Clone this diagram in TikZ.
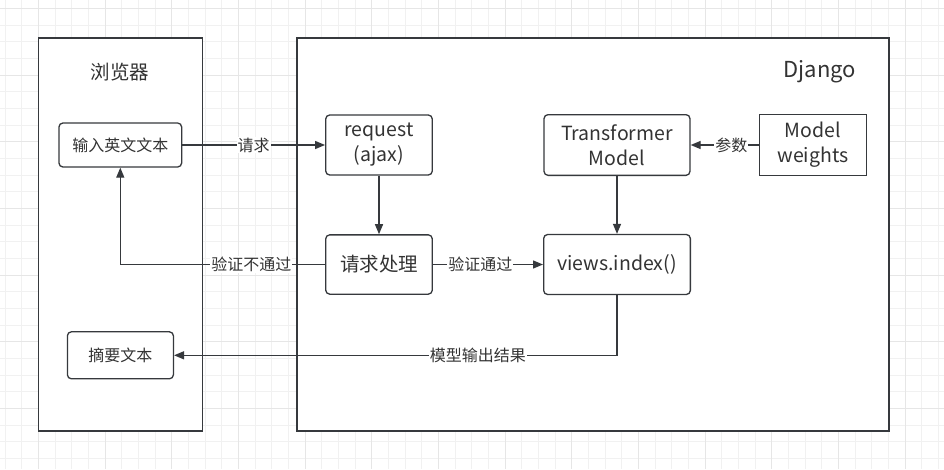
\documentclass[tikz,border=0pt]{standalone}
\usepackage{fontspec}
\setmainfont{Noto Sans CJK SC}
\usetikzlibrary{positioning, arrows.meta, calc}
\definecolor{Diagram_Line}{HTML}{36393D}
\definecolor{Diagram_Text}{HTML}{333333}
\definecolor{Grid_Minor}{HTML}{F1F1F1}
\definecolor{Grid_Major}{HTML}{E6E6E6}

\begin{document}
\begin{tikzpicture}[x=1pt, y=-1pt,
  every node/.style={text=Diagram_Text, font=\fontsize{16}{20}\selectfont},
  panel/.style={draw=Diagram_Line, line width=1.3pt, fill=white, inner sep=0pt},
  box/.style={draw=Diagram_Line, line width=1.3pt, fill=white, rounded corners=4pt,
    align=center, inner sep=0pt, font=\fontsize{19.5}{25}\selectfont},
  small box/.style={box, font=\fontsize{16}{20}\selectfont},
  flow/.style={draw=Diagram_Line, line width=1.3pt, -{Triangle[length=10pt, width=8pt]}},
  edge label/.style={fill=white, inner sep=1pt, font=\fontsize{16}{20}\selectfont}]
  \useasboundingbox (0,0) rectangle (944,469);
  \fill[white] (0,0) rectangle (944,469);
  % Background grid
  \foreach \gx in {0,...,56} {
    \draw[Grid_Minor, line width=0.8pt] ({5+16.667*\gx},0) -- ++(0,469);
  }
  \foreach \gy in {0,...,28} {
    \draw[Grid_Minor, line width=0.8pt] (0,{8.3+16.667*\gy}) -- ++(944,0);
  }
  \foreach \gx in {0,...,14} {
    \draw[Grid_Major, line width=0.8pt] ({38.3+66.667*\gx},0) -- ++(0,469);
  }
  \foreach \gy in {0,...,7} {
    \draw[Grid_Major, line width=0.8pt] (0,{8.3+66.667*\gy}) -- ++(944,0);
  }
  % Panels
  \node[panel, minimum width=164pt, minimum height=393pt] (browser) at (120.5,234.5) {};
  \node[panel, minimum width=592pt, minimum height=393pt] (django) at (593,234.5) {};
  \node[font=\fontsize{19.5}{22}\selectfont] (browser title) at (120,72) {浏览器};
  \node[font=\fontsize{22}{26}\selectfont] (django title) at (820,72) {Django};
  % Boxes
  \node[small box, minimum width=122.7pt, minimum height=44pt] (input) at (120.3,145) {输入英文文本};
  \node[small box, minimum width=106pt, minimum height=47pt] (summary) at (120.4,355.3) {摘要文本};
  \node[box, minimum width=106.6pt, minimum height=60pt] (request) at (379,145) {request\\(ajax)};
  \node[box, minimum width=106.6pt, minimum height=59.3pt] (handle) at (379,264.5) {请求处理};
  \node[box, minimum width=146pt, minimum height=60.7pt] (transformer) at (617,145) {Transformer\\Model};
  \node[box, rounded corners=0pt, minimum width=107.4pt, minimum height=60.7pt] (weights) at (813,145) {Model\\weights};
  \node[box, minimum width=146.7pt, minimum height=60pt] (views) at (617,264.5) {views.index()};
  % Connectors
  \draw[flow] (input) -- node[edge label]{请求} (request);
  \draw[flow] (request) -- (handle);
  \draw[flow] (handle.west) -| node[edge label, pos=0.18]{验证不通过} (input.south);
  \draw[flow] (handle) -- node[edge label, pos=0.43]{验证通过} (views);
  \draw[flow] (weights) -- node[edge label, pos=0.4]{参数} (transformer);
  \draw[flow] (transformer) -- (views);
  \draw[flow] (views.south) |- node[edge label, pos=0.657]{模型输出结果} (summary.east);
\end{tikzpicture}
\end{document}
